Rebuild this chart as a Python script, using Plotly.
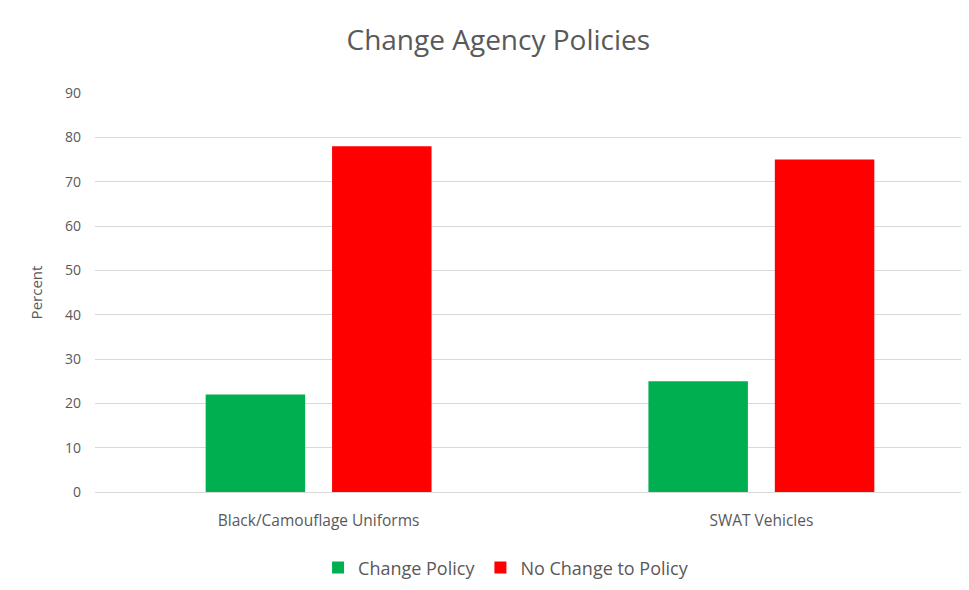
import plotly.graph_objects as go

categories = ["Black/Camouflage Uniforms", "SWAT Vehicles"]
change_policy = [22, 25]
no_change_policy = [78, 75]
y_ticks = [0, 10, 20, 30, 40, 50, 60, 70, 80, 90]

FONT = "'Open Sans', sans-serif"
GREY = "#595959"

fig = go.Figure()
fig.add_trace(go.Bar(x=categories, y=change_policy, name="Change Policy",
                     marker=dict(color="#00B050", line=dict(width=0))))
fig.add_trace(go.Bar(x=categories, y=no_change_policy, name="No Change to Policy",
                     marker=dict(color="#FF0000", line=dict(width=0))))

# the page body adds an 8px offset, so margins are reduced by 8
fig.update_layout(
    width=969, height=590,
    paper_bgcolor="white", plot_bgcolor="white",
    margin=dict(l=87, r=0, t=85, b=106, autoexpand=False),
    barmode="group", bargap=0.429, bargroupgap=0.213,
    font=dict(family=FONT, color=GREY, size=14),
    title=dict(text="Change Agency Policies", x=0.506, xref="container", xanchor="center",
               y=0.946, yref="container", yanchor="middle",
               font=dict(size=28, color=GREY, family=FONT)),
    xaxis=dict(range=[-0.505, 1.487], showgrid=False, showline=True, automargin=False,
               linecolor="#d9d9d9", linewidth=1, ticks="", ticklabelstandoff=14,
               tickfont=dict(size=15.5, color=GREY)),
    yaxis=dict(range=[0, 90], tickvals=y_ticks, showgrid=True, automargin=False,
               gridcolor="#d9d9d9", gridwidth=1, zeroline=False,
               ticks="", ticklen=0, ticklabelstandoff=13, tickfont=dict(size=14, color=GREY),
               title=dict(text="Percent", standoff=18, font=dict(size=15, color=GREY))),
    legend=dict(orientation="h", x=0.514, xref="container", xanchor="center",
                y=0.051, yref="container", yanchor="middle",
                font=dict(size=18, color=GREY), itemwidth=30, traceorder="normal"),
)

fig.write_html("out.html")
